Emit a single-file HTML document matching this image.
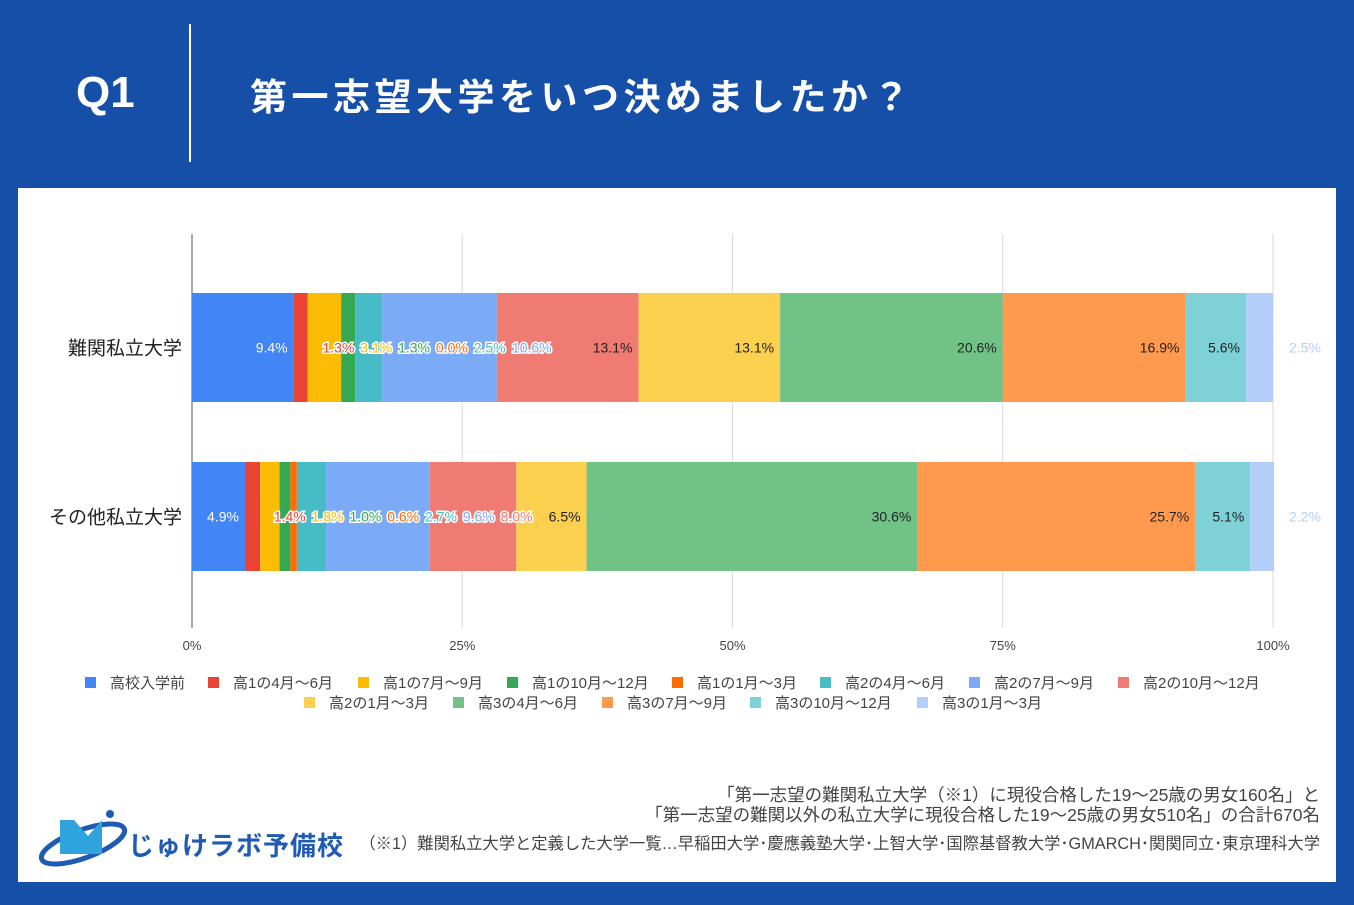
<!DOCTYPE html>
<html><head><meta charset="utf-8">
<style>
body{margin:0;width:1354px;height:905px;background:#154fa8;font-family:"Liberation Sans","Noto Sans CJK JP",sans-serif;position:relative;overflow:hidden}
.abs{position:absolute}
#panel{left:18px;top:188px;width:1318px;height:694px;background:#fff}
.foot{right:34px;color:#444;font-size:17.5px;white-space:nowrap;text-align:right;line-height:20px}
</style></head><body>
<div class="abs" style="left:76px;top:68px;color:#fff;font-size:44px;font-weight:bold">Q1</div>
<div class="abs" style="left:189px;top:24px;width:2px;height:138px;background:#fff"></div>
<div class="abs" style="left:250px;top:67px;color:#fff;font-size:37px;font-weight:bold;letter-spacing:4.5px">第一志望大学をいつ決めましたか？</div>
<div id="panel" class="abs"></div>
<svg class="abs" style="left:0;top:0" width="1354" height="905" id="chart"></svg>
<div class="abs foot" style="top:785px">「第一志望の難関私立大学（※1）に現役合格した19～25歳の男女160名」と</div>
<div class="abs foot" style="top:805px">「第一志望の難関以外の私立大学に現役合格した19～25歳の男女510名」の合計670名</div>
<div class="abs foot" style="top:834px;font-size:16.3px">（※1）難関私立大学と定義した大学一覧…早稲田大学･慶應義塾大学･上智大学･国際基督教大学･GMARCH･関関同立･東京理科大学</div>
<svg class="abs" style="left:38px;top:808px" width="95" height="60">
<ellipse cx="45" cy="36" rx="44" ry="14" fill="none" stroke="#1f5bb5" stroke-width="5" transform="rotate(-20 45 36)"/>
<rect x="22" y="12" width="14" height="34" fill="#2ea3dc"/><path d="M36 12 L50 28 L64 12 L64 46 L36 46Z" fill="#2ea3dc"/>
<circle cx="72" cy="6" r="4" fill="#1f5bb5"/></svg>
<div class="abs" style="left:128px;top:826px;color:#1f5bb5;font-size:26px;font-weight:bold;letter-spacing:1px">じゅけラボ予備校</div>
<script>
const categories=["難関私立大学","その他私立大学"];
const seriesNames=["高校入学前","高1の4月～6月","高1の7月～9月","高1の10月～12月","高1の1月～3月","高2の4月～6月","高2の7月～9月","高2の10月～12月","高2の1月～3月","高3の4月～6月","高3の7月～9月","高3の10月～12月","高3の1月～3月"];
const valuesRow1=[9.4,1.3,3.1,1.3,0.0,2.5,10.6,13.1,13.1,20.6,16.9,5.6,2.5];
const valuesRow2=[4.9,1.4,1.8,1.0,0.6,2.7,9.6,8.0,6.5,30.6,25.7,5.1,2.2];
const tickValues=[0,25,50,75,100];
const colors=["#4285f4","#ea4335","#fbbc04","#34a853","#ff6d01","#46bdc6","#7baaf7","#f07b72","#fcd04f","#71c287","#ff994d","#7ed1d7","#b3cefb"];
const NS="http://www.w3.org/2000/svg";
const svg=document.getElementById('chart');
const x0=192,x1=1273;
const xs=v=>x0+(x1-x0)*v/100;
const rowTop=[293,462],barH=109;
function el(t,a,txt){const e=document.createElementNS(NS,t);for(const k in a)e.setAttribute(k,a[k]);if(txt!==undefined)e.textContent=txt;svg.appendChild(e);return e;}
tickValues.forEach(t=>{
 const g=el('line',{x1:xs(t),x2:xs(t),y1:234,y2:628,stroke:t===0?'#555':'#d9d9d9','stroke-width':1});
 
 
 const l=el('text',{x:xs(t),y:650,'font-size':13,fill:'#444','text-anchor':'middle'},t+'%');
 
 
});
const rows=[valuesRow1,valuesRow2];
const darkLabel=[false,false,false,false,false,false,false,true,true,true,true,true,false];
rows.forEach((vals,r)=>{
 const y=rowTop[r];
 const cl=el('text',{x:182,y:y+barH/2+7,'font-size':19,fill:'#222','text-anchor':'end'},categories[r]);
 
 
 let acc=0,prevRight=0,prevOut=false;const labels=[];
 vals.forEach((v,i)=>{
  const a=xs(acc),b=xs(acc+v);acc+=v;
  const rc=el('rect',{x:a,y:y,width:Math.max(0,b-a),height:barH,fill:colors[i]});
  
  
  const txt=v.toFixed(1)+'%';const w=txt.length*8.2;
  if(i===vals.length-1){labels.push({x:1305,txt,i,mid:true});return;}
  let right=b-6;let pushed=false;
  if(i>0&&right-w<prevRight+5){right=prevRight+(prevOut?5:34)+w;pushed=true;}
  labels.push({x:right,txt,i,out:pushed});prevRight=right;prevOut=pushed;
 });
 labels.forEach(L=>{
  const yy=y+barH/2+5;
  let t;
  if(L.mid){t=el('text',{x:L.x,y:yy,'font-size':14,fill:colors[L.i],'text-anchor':'middle'},L.txt);}
  else if(L.out){t=el('text',{x:L.x,y:yy,'font-size':14,fill:colors[L.i],'text-anchor':'end',stroke:'#fff','stroke-width':3,'paint-order':'stroke'},L.txt);}
  else{t=el('text',{x:L.x,y:yy,'font-size':14,fill:darkLabel[L.i]?'#222':'#fff','text-anchor':'end'},L.txt);}
  
  
 });
});
const legX=[85,208,358,507,672,820,969,1118,304,453,602,750,917];
seriesNames.forEach((n,i)=>{
 const y=i<8?677:697;
 const s=el('rect',{x:legX[i],y:y,width:11,height:11,fill:colors[i]});
 
 
 const t=el('text',{x:legX[i]+25,y:y+11,'font-size':15,fill:'#444'},n);
 
 
});
</script>
</body></html>
